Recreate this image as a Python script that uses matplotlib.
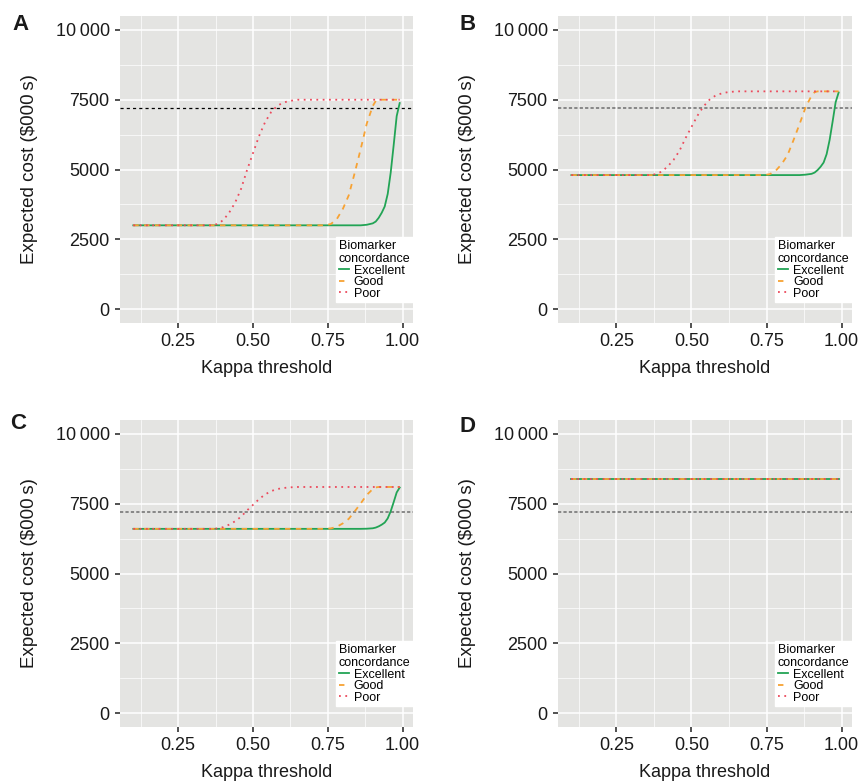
import numpy as np
import matplotlib.pyplot as plt
from matplotlib.ticker import FixedLocator

plt.rcParams['font.family'] = ['Liberation Sans', 'DejaVu Sans']

##############
##  DATOS   ##
##############

kappa = [0.10, 0.20, 0.30, 0.36, 0.38, 0.40, 0.42, 0.44, 0.46, 0.48, 0.50,
         0.52, 0.54, 0.56, 0.58, 0.60, 0.62, 0.65, 0.70, 0.74, 0.76, 0.78,
         0.80, 0.82, 0.84, 0.86, 0.88, 0.90, 0.91, 0.92, 0.93, 0.94, 0.95,
         0.96, 0.97, 0.98, 0.99]

# panel A
exc_A = [3000, 3000, 3000, 3000, 3000, 3000, 3000, 3000, 3000, 3000, 3000,
         3000, 3000, 3000, 3000, 3000, 3000, 3000, 3000, 3000, 3000, 3000,
         3000, 3000, 3000, 3000, 3020, 3070, 3135, 3270, 3450, 3675, 4125,
         4890, 5880, 6915, 7380]
good_A = [3000, 3000, 3000, 3000, 3000, 3000, 3000, 3000, 3000, 3000, 3000,
          3000, 3000, 3000, 3000, 3000, 3000, 3000, 3000, 3000, 3045, 3225,
          3585, 4080, 4890, 5745, 6645, 7275, 7455, 7500, 7500, 7500, 7500,
          7500, 7500, 7500, 7500]
poor_A = [3000, 3000, 3000, 3000, 3045, 3180, 3450, 3810, 4305, 4980, 5590,
          6195, 6690, 7050, 7275, 7390, 7455, 7500, 7500, 7500, 7500, 7500,
          7500, 7500, 7500, 7500, 7500, 7500, 7500, 7500, 7500, 7500, 7500,
          7500, 7500, 7500, 7500]

# panel B
exc_B = [4800, 4800, 4800, 4800, 4800, 4800, 4800, 4800, 4800, 4800, 4800,
         4800, 4800, 4800, 4800, 4800, 4800, 4800, 4800, 4800, 4800, 4800,
         4800, 4800, 4800, 4800, 4815, 4845, 4890, 4980, 5100, 5250, 5550,
         6060, 6720, 7410, 7760]
good_B = [4800, 4800, 4800, 4800, 4800, 4800, 4800, 4800, 4800, 4800, 4800,
          4800, 4800, 4800, 4800, 4800, 4800, 4800, 4800, 4800, 4830, 4950,
          5190, 5520, 6060, 6630, 7230, 7650, 7770, 7800, 7800, 7800, 7800,
          7800, 7800, 7800, 7800]
poor_B = [4800, 4800, 4800, 4800, 4830, 4920, 5100, 5340, 5670, 6120, 6525,
          6930, 7260, 7500, 7650, 7725, 7770, 7800, 7800, 7800, 7800, 7800,
          7800, 7800, 7800, 7800, 7800, 7800, 7800, 7800, 7800, 7800, 7800,
          7800, 7800, 7800, 7800]

# panel C
exc_C = [6600, 6600, 6600, 6600, 6600, 6600, 6600, 6600, 6600, 6600, 6600,
         6600, 6600, 6600, 6600, 6600, 6600, 6600, 6600, 6600, 6600, 6600,
         6600, 6600, 6600, 6600, 6605, 6620, 6645, 6690, 6750, 6825, 6975,
         7230, 7560, 7905, 8080]
good_C = [6600, 6600, 6600, 6600, 6600, 6600, 6600, 6600, 6600, 6600, 6600,
          6600, 6600, 6600, 6600, 6600, 6600, 6600, 6600, 6600, 6615, 6675,
          6795, 6960, 7230, 7515, 7815, 8025, 8085, 8100, 8100, 8100, 8100,
          8100, 8100, 8100, 8100]
poor_C = [6600, 6600, 6600, 6600, 6615, 6660, 6750, 6870, 7035, 7260, 7460,
          7665, 7830, 7950, 8025, 8060, 8085, 8100, 8100, 8100, 8100, 8100,
          8100, 8100, 8100, 8100, 8100, 8100, 8100, 8100, 8100, 8100, 8100,
          8100, 8100, 8100, 8100]

# panel D (todo plano)
exc_D = [8400] * len(kappa)
good_D = [8400] * len(kappa)
poor_D = [8400] * len(kappa)

umbral = 7200   # linea horizontal

paneles = ['A', 'B', 'C', 'D']
series = {'A': (exc_A, good_A, poor_A), 'B': (exc_B, good_B, poor_B),
          'C': (exc_C, good_C, poor_C), 'D': (exc_D, good_D, poor_D)}
nombres = ['Excellent', 'Good', 'Poor']
yticks = [0, 2500, 5000, 7500, 10000]
ytick_lab = ['0', '2500', '5000', '7500', '10\u2009000']
xticks = [0.25, 0.50, 0.75, 1.00]
xtick_lab = ['0.25', '0.50', '0.75', '1.00']

#############
##  PLOTS  ##
#############

W, H = 860, 782
fig = plt.figure(figsize=(W / 100, H / 100), dpi=100)

# caja de cada panel en pixeles (izq, arriba, der, abajo)
cajas = {'A': (120, 16, 413, 323), 'B': (558, 16, 852, 323),
         'C': (120, 420, 413, 727), 'D': (558, 420, 852, 727)}
letras = {'A': (12, 24), 'B': (459, 24), 'C': (10, 423), 'D': (460, 426)}

colores = ['#22A455', '#F7A233', '#EC4A5C']
estilos = ['-', (0, (3, 3)), (0, (1, 2.5))]

for p in paneles:
    l, t, r, b = cajas[p]
    ax = fig.add_axes([l / W, 1 - b / H, (r - l) / W, (b - t) / H])
    ax.set_facecolor('#E4E4E2')
    for s in ax.spines.values():
        s.set_visible(False)

    ax.set_xlim(0.0555, 1.0345)
    ax.set_ylim(-500, 10500)
    ax.xaxis.set_major_locator(FixedLocator(xticks))
    ax.yaxis.set_major_locator(FixedLocator(yticks))
    ax.xaxis.set_minor_locator(FixedLocator([0.125, 0.375, 0.625, 0.875]))
    ax.yaxis.set_minor_locator(FixedLocator([1250, 3750, 6250, 8750]))
    ax.set_xticklabels(xtick_lab)
    ax.set_yticklabels(ytick_lab)
    ax.grid(which='major', color='white', lw=1.1)
    ax.grid(which='minor', color='white', lw=0.5)
    ax.set_axisbelow(True)
    ax.tick_params(which='major', length=3.4, width=1.2, color='#333333',
                   labelsize=13, labelcolor='#1a1a1a', pad=4)
    ax.tick_params(which='minor', length=0)

    if p == 'A':
        ax.axhline(umbral, color='black', lw=0.9, ls=(0, (2.5, 2.5)))
    else:
        ax.axhline(umbral, color='#808080', lw=1.3, ls=(0, (1.8, 1.2)))

    for y, nom, c, e in zip(series[p], nombres, colores, estilos):
        ax.plot(kappa, y, color=c, ls=e, lw=1.3, label=nom)

    ax.set_xlabel('Kappa threshold', fontsize=13, labelpad=7, color='#1a1a1a')
    ax.set_ylabel('Expected cost ($000\u2009s)', fontsize=13.5, labelpad=13,
                  color='#1a1a1a')

    leg = ax.legend(title='Biomarker\nconcordance', loc='lower right',
                    bbox_to_anchor=(1.0, 0.068), fontsize=9,
                    title_fontsize=9, handlelength=0.8, handletextpad=0.4,
                    labelspacing=-0.05, borderpad=0.2, fancybox=False,
                    framealpha=1, edgecolor='white', borderaxespad=0)
    leg._legend_box.align = 'left'

    fig.text(letras[p][0] / W, 1 - letras[p][1] / H, p, fontsize=16,
             fontweight='bold', va='center', ha='left', color='#1a1a1a')

fig.savefig('out.png', dpi=100)
